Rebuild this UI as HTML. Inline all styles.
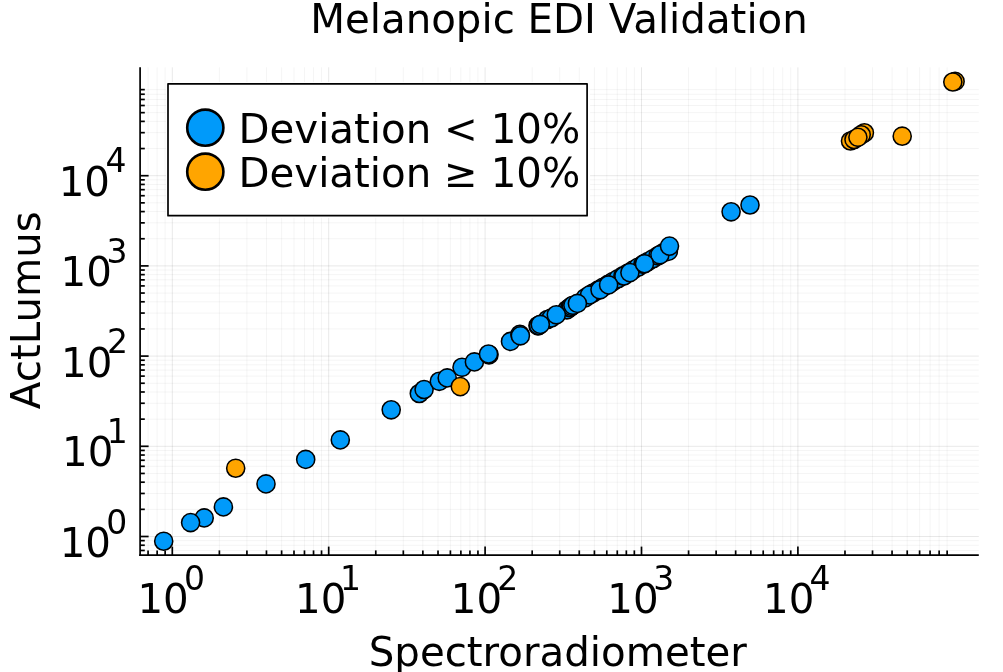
<!DOCTYPE html>
<html lang="en"><head><meta charset="utf-8"><title>Melanopic EDI Validation</title>
<style>html,body{margin:0;padding:0;background:#fff}svg{display:block}</style></head>
<body>
<svg width="1003" height="672" viewBox="0 0 1003 672" font-family="'DejaVu Sans', 'Liberation Sans', sans-serif" fill="#000">
<rect width="1003" height="672" fill="#fff"/>
<g stroke="#000" stroke-width="0.9" fill="none">
<line x1="148.07" y1="67.3" x2="148.07" y2="555.1" stroke-opacity="0.05"/>
<line x1="140.1" y1="550.47" x2="978.8" y2="550.47" stroke-opacity="0.05"/>
<line x1="157.14" y1="67.3" x2="157.14" y2="555.1" stroke-opacity="0.05"/>
<line x1="140.1" y1="545.24" x2="978.8" y2="545.24" stroke-opacity="0.05"/>
<line x1="165.14" y1="67.3" x2="165.14" y2="555.1" stroke-opacity="0.05"/>
<line x1="140.1" y1="540.63" x2="978.8" y2="540.63" stroke-opacity="0.05"/>
<line x1="219.38" y1="67.3" x2="219.38" y2="555.1" stroke-opacity="0.05"/>
<line x1="140.1" y1="509.35" x2="978.8" y2="509.35" stroke-opacity="0.05"/>
<line x1="246.92" y1="67.3" x2="246.92" y2="555.1" stroke-opacity="0.05"/>
<line x1="140.1" y1="493.46" x2="978.8" y2="493.46" stroke-opacity="0.05"/>
<line x1="266.46" y1="67.3" x2="266.46" y2="555.1" stroke-opacity="0.05"/>
<line x1="140.1" y1="482.19" x2="978.8" y2="482.19" stroke-opacity="0.05"/>
<line x1="281.62" y1="67.3" x2="281.62" y2="555.1" stroke-opacity="0.05"/>
<line x1="140.1" y1="473.45" x2="978.8" y2="473.45" stroke-opacity="0.05"/>
<line x1="294.00" y1="67.3" x2="294.00" y2="555.1" stroke-opacity="0.05"/>
<line x1="140.1" y1="466.31" x2="978.8" y2="466.31" stroke-opacity="0.05"/>
<line x1="304.47" y1="67.3" x2="304.47" y2="555.1" stroke-opacity="0.05"/>
<line x1="140.1" y1="460.27" x2="978.8" y2="460.27" stroke-opacity="0.05"/>
<line x1="313.54" y1="67.3" x2="313.54" y2="555.1" stroke-opacity="0.05"/>
<line x1="140.1" y1="455.04" x2="978.8" y2="455.04" stroke-opacity="0.05"/>
<line x1="321.54" y1="67.3" x2="321.54" y2="555.1" stroke-opacity="0.05"/>
<line x1="140.1" y1="450.43" x2="978.8" y2="450.43" stroke-opacity="0.05"/>
<line x1="375.78" y1="67.3" x2="375.78" y2="555.1" stroke-opacity="0.05"/>
<line x1="140.1" y1="419.15" x2="978.8" y2="419.15" stroke-opacity="0.05"/>
<line x1="403.32" y1="67.3" x2="403.32" y2="555.1" stroke-opacity="0.05"/>
<line x1="140.1" y1="403.26" x2="978.8" y2="403.26" stroke-opacity="0.05"/>
<line x1="422.86" y1="67.3" x2="422.86" y2="555.1" stroke-opacity="0.05"/>
<line x1="140.1" y1="391.99" x2="978.8" y2="391.99" stroke-opacity="0.05"/>
<line x1="438.02" y1="67.3" x2="438.02" y2="555.1" stroke-opacity="0.05"/>
<line x1="140.1" y1="383.25" x2="978.8" y2="383.25" stroke-opacity="0.05"/>
<line x1="450.40" y1="67.3" x2="450.40" y2="555.1" stroke-opacity="0.05"/>
<line x1="140.1" y1="376.11" x2="978.8" y2="376.11" stroke-opacity="0.05"/>
<line x1="460.87" y1="67.3" x2="460.87" y2="555.1" stroke-opacity="0.05"/>
<line x1="140.1" y1="370.07" x2="978.8" y2="370.07" stroke-opacity="0.05"/>
<line x1="469.94" y1="67.3" x2="469.94" y2="555.1" stroke-opacity="0.05"/>
<line x1="140.1" y1="364.84" x2="978.8" y2="364.84" stroke-opacity="0.05"/>
<line x1="477.94" y1="67.3" x2="477.94" y2="555.1" stroke-opacity="0.05"/>
<line x1="140.1" y1="360.23" x2="978.8" y2="360.23" stroke-opacity="0.05"/>
<line x1="532.18" y1="67.3" x2="532.18" y2="555.1" stroke-opacity="0.05"/>
<line x1="140.1" y1="328.95" x2="978.8" y2="328.95" stroke-opacity="0.05"/>
<line x1="559.72" y1="67.3" x2="559.72" y2="555.1" stroke-opacity="0.05"/>
<line x1="140.1" y1="313.06" x2="978.8" y2="313.06" stroke-opacity="0.05"/>
<line x1="579.26" y1="67.3" x2="579.26" y2="555.1" stroke-opacity="0.05"/>
<line x1="140.1" y1="301.79" x2="978.8" y2="301.79" stroke-opacity="0.05"/>
<line x1="594.42" y1="67.3" x2="594.42" y2="555.1" stroke-opacity="0.05"/>
<line x1="140.1" y1="293.05" x2="978.8" y2="293.05" stroke-opacity="0.05"/>
<line x1="606.80" y1="67.3" x2="606.80" y2="555.1" stroke-opacity="0.05"/>
<line x1="140.1" y1="285.91" x2="978.8" y2="285.91" stroke-opacity="0.05"/>
<line x1="617.27" y1="67.3" x2="617.27" y2="555.1" stroke-opacity="0.05"/>
<line x1="140.1" y1="279.87" x2="978.8" y2="279.87" stroke-opacity="0.05"/>
<line x1="626.34" y1="67.3" x2="626.34" y2="555.1" stroke-opacity="0.05"/>
<line x1="140.1" y1="274.64" x2="978.8" y2="274.64" stroke-opacity="0.05"/>
<line x1="634.34" y1="67.3" x2="634.34" y2="555.1" stroke-opacity="0.05"/>
<line x1="140.1" y1="270.03" x2="978.8" y2="270.03" stroke-opacity="0.05"/>
<line x1="688.58" y1="67.3" x2="688.58" y2="555.1" stroke-opacity="0.05"/>
<line x1="140.1" y1="238.75" x2="978.8" y2="238.75" stroke-opacity="0.05"/>
<line x1="716.12" y1="67.3" x2="716.12" y2="555.1" stroke-opacity="0.05"/>
<line x1="140.1" y1="222.86" x2="978.8" y2="222.86" stroke-opacity="0.05"/>
<line x1="735.66" y1="67.3" x2="735.66" y2="555.1" stroke-opacity="0.05"/>
<line x1="140.1" y1="211.59" x2="978.8" y2="211.59" stroke-opacity="0.05"/>
<line x1="750.82" y1="67.3" x2="750.82" y2="555.1" stroke-opacity="0.05"/>
<line x1="140.1" y1="202.85" x2="978.8" y2="202.85" stroke-opacity="0.05"/>
<line x1="763.20" y1="67.3" x2="763.20" y2="555.1" stroke-opacity="0.05"/>
<line x1="140.1" y1="195.71" x2="978.8" y2="195.71" stroke-opacity="0.05"/>
<line x1="773.67" y1="67.3" x2="773.67" y2="555.1" stroke-opacity="0.05"/>
<line x1="140.1" y1="189.67" x2="978.8" y2="189.67" stroke-opacity="0.05"/>
<line x1="782.74" y1="67.3" x2="782.74" y2="555.1" stroke-opacity="0.05"/>
<line x1="140.1" y1="184.44" x2="978.8" y2="184.44" stroke-opacity="0.05"/>
<line x1="790.74" y1="67.3" x2="790.74" y2="555.1" stroke-opacity="0.05"/>
<line x1="140.1" y1="179.83" x2="978.8" y2="179.83" stroke-opacity="0.05"/>
<line x1="844.98" y1="67.3" x2="844.98" y2="555.1" stroke-opacity="0.05"/>
<line x1="140.1" y1="148.55" x2="978.8" y2="148.55" stroke-opacity="0.05"/>
<line x1="872.52" y1="67.3" x2="872.52" y2="555.1" stroke-opacity="0.05"/>
<line x1="140.1" y1="132.66" x2="978.8" y2="132.66" stroke-opacity="0.05"/>
<line x1="892.06" y1="67.3" x2="892.06" y2="555.1" stroke-opacity="0.05"/>
<line x1="140.1" y1="121.39" x2="978.8" y2="121.39" stroke-opacity="0.05"/>
<line x1="907.22" y1="67.3" x2="907.22" y2="555.1" stroke-opacity="0.05"/>
<line x1="140.1" y1="112.65" x2="978.8" y2="112.65" stroke-opacity="0.05"/>
<line x1="919.60" y1="67.3" x2="919.60" y2="555.1" stroke-opacity="0.05"/>
<line x1="140.1" y1="105.51" x2="978.8" y2="105.51" stroke-opacity="0.05"/>
<line x1="930.07" y1="67.3" x2="930.07" y2="555.1" stroke-opacity="0.05"/>
<line x1="140.1" y1="99.47" x2="978.8" y2="99.47" stroke-opacity="0.05"/>
<line x1="939.14" y1="67.3" x2="939.14" y2="555.1" stroke-opacity="0.05"/>
<line x1="140.1" y1="94.24" x2="978.8" y2="94.24" stroke-opacity="0.05"/>
<line x1="947.14" y1="67.3" x2="947.14" y2="555.1" stroke-opacity="0.05"/>
<line x1="140.1" y1="89.63" x2="978.8" y2="89.63" stroke-opacity="0.05"/>
<line x1="172.30" y1="67.3" x2="172.30" y2="555.1" stroke-opacity="0.1"/>
<line x1="140.1" y1="536.50" x2="978.8" y2="536.50" stroke-opacity="0.1"/>
<line x1="328.70" y1="67.3" x2="328.70" y2="555.1" stroke-opacity="0.1"/>
<line x1="140.1" y1="446.30" x2="978.8" y2="446.30" stroke-opacity="0.1"/>
<line x1="485.10" y1="67.3" x2="485.10" y2="555.1" stroke-opacity="0.1"/>
<line x1="140.1" y1="356.10" x2="978.8" y2="356.10" stroke-opacity="0.1"/>
<line x1="641.50" y1="67.3" x2="641.50" y2="555.1" stroke-opacity="0.1"/>
<line x1="140.1" y1="265.90" x2="978.8" y2="265.90" stroke-opacity="0.1"/>
<line x1="797.90" y1="67.3" x2="797.90" y2="555.1" stroke-opacity="0.1"/>
<line x1="140.1" y1="175.70" x2="978.8" y2="175.70" stroke-opacity="0.1"/>
</g>
<g stroke="#000" stroke-width="1.7" fill="none" stroke-linecap="butt">
<line x1="140.1" y1="67.3" x2="140.1" y2="555.95"/>
<line x1="139.25" y1="555.1" x2="978.8" y2="555.1" stroke-width="1.85"/>
<line x1="148.07" y1="555.1" x2="148.07" y2="550.4"/>
<line x1="140.1" y1="550.47" x2="144.79999999999998" y2="550.47"/>
<line x1="157.14" y1="555.1" x2="157.14" y2="550.4"/>
<line x1="140.1" y1="545.24" x2="144.79999999999998" y2="545.24"/>
<line x1="165.14" y1="555.1" x2="165.14" y2="550.4"/>
<line x1="140.1" y1="540.63" x2="144.79999999999998" y2="540.63"/>
<line x1="219.38" y1="555.1" x2="219.38" y2="550.4"/>
<line x1="140.1" y1="509.35" x2="144.79999999999998" y2="509.35"/>
<line x1="246.92" y1="555.1" x2="246.92" y2="550.4"/>
<line x1="140.1" y1="493.46" x2="144.79999999999998" y2="493.46"/>
<line x1="266.46" y1="555.1" x2="266.46" y2="550.4"/>
<line x1="140.1" y1="482.19" x2="144.79999999999998" y2="482.19"/>
<line x1="281.62" y1="555.1" x2="281.62" y2="550.4"/>
<line x1="140.1" y1="473.45" x2="144.79999999999998" y2="473.45"/>
<line x1="294.00" y1="555.1" x2="294.00" y2="550.4"/>
<line x1="140.1" y1="466.31" x2="144.79999999999998" y2="466.31"/>
<line x1="304.47" y1="555.1" x2="304.47" y2="550.4"/>
<line x1="140.1" y1="460.27" x2="144.79999999999998" y2="460.27"/>
<line x1="313.54" y1="555.1" x2="313.54" y2="550.4"/>
<line x1="140.1" y1="455.04" x2="144.79999999999998" y2="455.04"/>
<line x1="321.54" y1="555.1" x2="321.54" y2="550.4"/>
<line x1="140.1" y1="450.43" x2="144.79999999999998" y2="450.43"/>
<line x1="375.78" y1="555.1" x2="375.78" y2="550.4"/>
<line x1="140.1" y1="419.15" x2="144.79999999999998" y2="419.15"/>
<line x1="403.32" y1="555.1" x2="403.32" y2="550.4"/>
<line x1="140.1" y1="403.26" x2="144.79999999999998" y2="403.26"/>
<line x1="422.86" y1="555.1" x2="422.86" y2="550.4"/>
<line x1="140.1" y1="391.99" x2="144.79999999999998" y2="391.99"/>
<line x1="438.02" y1="555.1" x2="438.02" y2="550.4"/>
<line x1="140.1" y1="383.25" x2="144.79999999999998" y2="383.25"/>
<line x1="450.40" y1="555.1" x2="450.40" y2="550.4"/>
<line x1="140.1" y1="376.11" x2="144.79999999999998" y2="376.11"/>
<line x1="460.87" y1="555.1" x2="460.87" y2="550.4"/>
<line x1="140.1" y1="370.07" x2="144.79999999999998" y2="370.07"/>
<line x1="469.94" y1="555.1" x2="469.94" y2="550.4"/>
<line x1="140.1" y1="364.84" x2="144.79999999999998" y2="364.84"/>
<line x1="477.94" y1="555.1" x2="477.94" y2="550.4"/>
<line x1="140.1" y1="360.23" x2="144.79999999999998" y2="360.23"/>
<line x1="532.18" y1="555.1" x2="532.18" y2="550.4"/>
<line x1="140.1" y1="328.95" x2="144.79999999999998" y2="328.95"/>
<line x1="559.72" y1="555.1" x2="559.72" y2="550.4"/>
<line x1="140.1" y1="313.06" x2="144.79999999999998" y2="313.06"/>
<line x1="579.26" y1="555.1" x2="579.26" y2="550.4"/>
<line x1="140.1" y1="301.79" x2="144.79999999999998" y2="301.79"/>
<line x1="594.42" y1="555.1" x2="594.42" y2="550.4"/>
<line x1="140.1" y1="293.05" x2="144.79999999999998" y2="293.05"/>
<line x1="606.80" y1="555.1" x2="606.80" y2="550.4"/>
<line x1="140.1" y1="285.91" x2="144.79999999999998" y2="285.91"/>
<line x1="617.27" y1="555.1" x2="617.27" y2="550.4"/>
<line x1="140.1" y1="279.87" x2="144.79999999999998" y2="279.87"/>
<line x1="626.34" y1="555.1" x2="626.34" y2="550.4"/>
<line x1="140.1" y1="274.64" x2="144.79999999999998" y2="274.64"/>
<line x1="634.34" y1="555.1" x2="634.34" y2="550.4"/>
<line x1="140.1" y1="270.03" x2="144.79999999999998" y2="270.03"/>
<line x1="688.58" y1="555.1" x2="688.58" y2="550.4"/>
<line x1="140.1" y1="238.75" x2="144.79999999999998" y2="238.75"/>
<line x1="716.12" y1="555.1" x2="716.12" y2="550.4"/>
<line x1="140.1" y1="222.86" x2="144.79999999999998" y2="222.86"/>
<line x1="735.66" y1="555.1" x2="735.66" y2="550.4"/>
<line x1="140.1" y1="211.59" x2="144.79999999999998" y2="211.59"/>
<line x1="750.82" y1="555.1" x2="750.82" y2="550.4"/>
<line x1="140.1" y1="202.85" x2="144.79999999999998" y2="202.85"/>
<line x1="763.20" y1="555.1" x2="763.20" y2="550.4"/>
<line x1="140.1" y1="195.71" x2="144.79999999999998" y2="195.71"/>
<line x1="773.67" y1="555.1" x2="773.67" y2="550.4"/>
<line x1="140.1" y1="189.67" x2="144.79999999999998" y2="189.67"/>
<line x1="782.74" y1="555.1" x2="782.74" y2="550.4"/>
<line x1="140.1" y1="184.44" x2="144.79999999999998" y2="184.44"/>
<line x1="790.74" y1="555.1" x2="790.74" y2="550.4"/>
<line x1="140.1" y1="179.83" x2="144.79999999999998" y2="179.83"/>
<line x1="844.98" y1="555.1" x2="844.98" y2="550.4"/>
<line x1="140.1" y1="148.55" x2="144.79999999999998" y2="148.55"/>
<line x1="872.52" y1="555.1" x2="872.52" y2="550.4"/>
<line x1="140.1" y1="132.66" x2="144.79999999999998" y2="132.66"/>
<line x1="892.06" y1="555.1" x2="892.06" y2="550.4"/>
<line x1="140.1" y1="121.39" x2="144.79999999999998" y2="121.39"/>
<line x1="907.22" y1="555.1" x2="907.22" y2="550.4"/>
<line x1="140.1" y1="112.65" x2="144.79999999999998" y2="112.65"/>
<line x1="919.60" y1="555.1" x2="919.60" y2="550.4"/>
<line x1="140.1" y1="105.51" x2="144.79999999999998" y2="105.51"/>
<line x1="930.07" y1="555.1" x2="930.07" y2="550.4"/>
<line x1="140.1" y1="99.47" x2="144.79999999999998" y2="99.47"/>
<line x1="939.14" y1="555.1" x2="939.14" y2="550.4"/>
<line x1="140.1" y1="94.24" x2="144.79999999999998" y2="94.24"/>
<line x1="947.14" y1="555.1" x2="947.14" y2="550.4"/>
<line x1="140.1" y1="89.63" x2="144.79999999999998" y2="89.63"/>
<line x1="172.30" y1="555.1" x2="172.30" y2="546.6"/>
<line x1="140.1" y1="536.50" x2="148.6" y2="536.50"/>
<line x1="328.70" y1="555.1" x2="328.70" y2="546.6"/>
<line x1="140.1" y1="446.30" x2="148.6" y2="446.30"/>
<line x1="485.10" y1="555.1" x2="485.10" y2="546.6"/>
<line x1="140.1" y1="356.10" x2="148.6" y2="356.10"/>
<line x1="641.50" y1="555.1" x2="641.50" y2="546.6"/>
<line x1="140.1" y1="265.90" x2="148.6" y2="265.90"/>
<line x1="797.90" y1="555.1" x2="797.90" y2="546.6"/>
<line x1="140.1" y1="175.70" x2="148.6" y2="175.70"/>
</g>
<text x="137.45" y="613.15" font-size="40.3">10</text>
<text x="184.05" y="590.4" font-size="33.0">0</text>
<text x="59.65" y="556.50" font-size="40.3">10</text>
<text x="106.19" y="534.00" font-size="33.0">0</text>
<text x="295.05" y="613.15" font-size="40.3">10</text>
<text x="339.97" y="590.0" font-size="33.0">1</text>
<text x="62.03" y="466.30" font-size="40.3">10</text>
<text x="106.81" y="443.20" font-size="33.0">1</text>
<text x="450.80" y="613.15" font-size="40.3">10</text>
<text x="497.22" y="590.0" font-size="33.0">2</text>
<text x="61.08" y="376.60" font-size="40.3">10</text>
<text x="107.12" y="352.90" font-size="33.0">2</text>
<text x="607.30" y="613.15" font-size="40.3">10</text>
<text x="653.34" y="590.4" font-size="33.0">3</text>
<text x="60.60" y="286.40" font-size="40.3">10</text>
<text x="106.50" y="262.70" font-size="33.0">3</text>
<text x="763.10" y="613.15" font-size="40.3">10</text>
<text x="809.60" y="590.0" font-size="33.0">4</text>
<text x="58.70" y="195.90" font-size="40.3">10</text>
<text x="105.55" y="172.20" font-size="33.0">4</text>
<text x="559.0" y="33.4" font-size="40.3" text-anchor="middle">Melanopic EDI Validation</text>
<text x="557.8" y="666.2" font-size="40.3" text-anchor="middle">Spectroradiometer</text>
<text transform="translate(39.7,310.2) rotate(-90)" font-size="40.3" text-anchor="middle">ActLumus</text>
<g stroke="#000" stroke-width="1.55">
<circle cx="163.7" cy="541.2" r="9.05" fill="#009AFA"/>
<circle cx="204.2" cy="517.9" r="9.05" fill="#009AFA"/>
<circle cx="190.6" cy="522.6" r="9.05" fill="#009AFA"/>
<circle cx="223.4" cy="506.9" r="9.05" fill="#009AFA"/>
<circle cx="235.7" cy="468.2" r="9.05" fill="#FFA500"/>
<circle cx="266.0" cy="483.9" r="9.05" fill="#009AFA"/>
<circle cx="305.7" cy="459.4" r="9.05" fill="#009AFA"/>
<circle cx="340.3" cy="439.9" r="9.05" fill="#009AFA"/>
<circle cx="391.2" cy="409.8" r="9.05" fill="#009AFA"/>
<circle cx="419.3" cy="393.5" r="9.05" fill="#009AFA"/>
<circle cx="424.1" cy="389.5" r="9.05" fill="#009AFA"/>
<circle cx="439.3" cy="381.3" r="9.05" fill="#009AFA"/>
<circle cx="462.0" cy="367.3" r="9.05" fill="#009AFA"/>
<circle cx="447.2" cy="377.9" r="9.05" fill="#009AFA"/>
<circle cx="474.4" cy="361.9" r="9.05" fill="#009AFA"/>
<circle cx="489.0" cy="354.8" r="9.05" fill="#009AFA"/>
<circle cx="488.5" cy="354.0" r="9.05" fill="#009AFA"/>
<circle cx="510.5" cy="341.4" r="9.05" fill="#009AFA"/>
<circle cx="519.9" cy="334.4" r="9.05" fill="#009AFA"/>
<circle cx="520.4" cy="335.8" r="9.05" fill="#009AFA"/>
<circle cx="593.0" cy="293.0" r="9.05" fill="#009AFA"/>
<circle cx="598.0" cy="290.1" r="9.05" fill="#009AFA"/>
<circle cx="603.0" cy="287.3" r="9.05" fill="#009AFA"/>
<circle cx="608.0" cy="284.4" r="9.05" fill="#009AFA"/>
<circle cx="613.0" cy="281.5" r="9.05" fill="#009AFA"/>
<circle cx="618.0" cy="278.7" r="9.05" fill="#009AFA"/>
<circle cx="623.0" cy="275.8" r="9.05" fill="#009AFA"/>
<circle cx="628.0" cy="273.0" r="9.05" fill="#009AFA"/>
<circle cx="633.0" cy="270.1" r="9.05" fill="#009AFA"/>
<circle cx="638.0" cy="267.2" r="9.05" fill="#009AFA"/>
<circle cx="643.0" cy="264.4" r="9.05" fill="#009AFA"/>
<circle cx="648.0" cy="261.5" r="9.05" fill="#009AFA"/>
<circle cx="653.0" cy="258.7" r="9.05" fill="#009AFA"/>
<circle cx="658.0" cy="255.8" r="9.05" fill="#009AFA"/>
<circle cx="663.0" cy="252.9" r="9.05" fill="#009AFA"/>
<circle cx="668.0" cy="250.1" r="9.05" fill="#009AFA"/>
<circle cx="538.0" cy="325.8" r="9.05" fill="#009AFA"/>
<circle cx="538.6" cy="325.5" r="9.05" fill="#009AFA"/>
<circle cx="547.4" cy="319.5" r="9.05" fill="#009AFA"/>
<circle cx="551.2" cy="318.0" r="9.05" fill="#009AFA"/>
<circle cx="566.9" cy="309.8" r="9.05" fill="#009AFA"/>
<circle cx="569.9" cy="307.5" r="9.05" fill="#009AFA"/>
<circle cx="571.4" cy="306.4" r="9.05" fill="#009AFA"/>
<circle cx="572.9" cy="305.3" r="9.05" fill="#009AFA"/>
<circle cx="585.2" cy="297.9" r="9.05" fill="#009AFA"/>
<circle cx="589.5" cy="295.0" r="9.05" fill="#009AFA"/>
<circle cx="623.9" cy="276.0" r="9.05" fill="#009AFA"/>
<circle cx="668.3" cy="251.4" r="9.05" fill="#009AFA"/>
<circle cx="659.9" cy="254.8" r="9.05" fill="#009AFA"/>
<circle cx="540.3" cy="324.4" r="9.05" fill="#009AFA"/>
<circle cx="556.3" cy="314.8" r="9.05" fill="#009AFA"/>
<circle cx="577.4" cy="303.4" r="9.05" fill="#009AFA"/>
<circle cx="600.0" cy="289.8" r="9.05" fill="#009AFA"/>
<circle cx="608.6" cy="284.9" r="9.05" fill="#009AFA"/>
<circle cx="629.9" cy="272.6" r="9.05" fill="#009AFA"/>
<circle cx="644.5" cy="263.7" r="9.05" fill="#009AFA"/>
<circle cx="669.5" cy="246.1" r="9.05" fill="#009AFA"/>
<circle cx="731.1" cy="211.8" r="9.05" fill="#009AFA"/>
<circle cx="750.0" cy="205.0" r="9.05" fill="#009AFA"/>
<circle cx="460.3" cy="386.6" r="9.05" fill="#FFA500"/>
<circle cx="850.5" cy="141.0" r="9.05" fill="#FFA500"/>
<circle cx="854.0" cy="139.5" r="9.05" fill="#FFA500"/>
<circle cx="864.4" cy="132.8" r="9.05" fill="#FFA500"/>
<circle cx="861.2" cy="134.8" r="9.05" fill="#FFA500"/>
<circle cx="857.9" cy="137.3" r="9.05" fill="#FFA500"/>
<circle cx="902.2" cy="136.2" r="9.05" fill="#FFA500"/>
<circle cx="955.1" cy="81.4" r="9.05" fill="#FFA500"/>
<circle cx="952.8" cy="82.0" r="9.05" fill="#FFA500"/>
</g>
<rect x="166.0" y="82.0" width="424.1" height="135.8" fill="#fff"/>
<rect x="168.0" y="83.8" width="419.1" height="131.9" fill="#fff" stroke="#000" stroke-width="1.7" stroke-linejoin="round"/>
<circle cx="205.3" cy="127.7" r="18.1" fill="#009AFA" stroke="#000" stroke-width="2.6"/>
<circle cx="205.3" cy="171.7" r="18.1" fill="#FFA500" stroke="#000" stroke-width="2.6"/>
<text x="238.5" y="142.6" font-size="40.3">Deviation &lt; 10%</text>
<text x="238.5" y="186.8" font-size="40.3">Deviation ≥ 10%</text>
</svg>
</body></html>
